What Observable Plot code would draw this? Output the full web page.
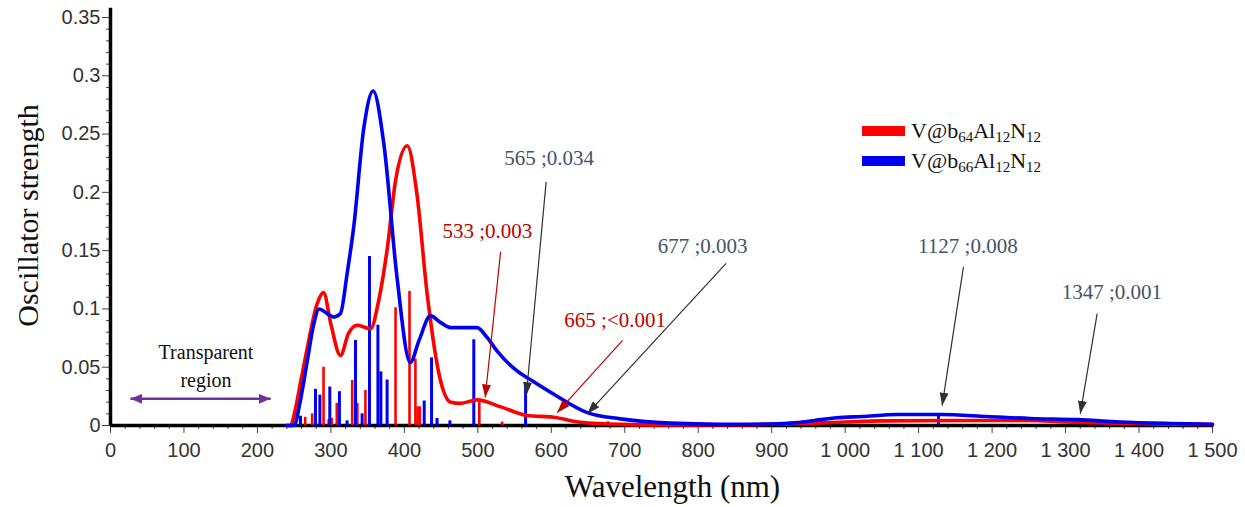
<!DOCTYPE html>
<html>
<head>
<meta charset="utf-8">
<script src="https://cdn.jsdelivr.net/npm/d3@7"></script>
<script src="https://cdn.jsdelivr.net/npm/@observablehq/plot@0.6"></script>
<style>
  html, body { margin: 0; padding: 0; background: #fff; }
  #chart { width: 1245px; height: 507px; }
</style>
</head>
<body>
<div id="chart"></div>
<script>
// ---------- Data ----------
const redCurveWl = [240, 245, 252, 259, 268, 281, 290, 300, 313, 324, 336, 354, 365, 377, 388, 404, 417, 431, 449, 463, 476, 499, 531, 567, 603, 640, 694, 760, 850, 957, 1000, 1050, 1150, 1250, 1300, 1370, 1443, 1500];
const redCurveF  = [0, 0, 0.015, 0.038, 0.067, 0.104, 0.114, 0.087, 0.060, 0.079, 0.086, 0.083, 0.107, 0.153, 0.210, 0.240, 0.199, 0.113, 0.039, 0.020, 0.019, 0.022, 0.016, 0.0086, 0.0071, 0.0028, 0.001, 0.0005, 0.0006, 0.002, 0.003, 0.004, 0.0043, 0.0043, 0.003, 0.002, 0.0012, 0.0008];

const blueCurveWl = [240, 250, 258, 268, 276, 284, 295, 304, 313, 322, 331, 345, 357.5, 372, 390, 408, 420, 435.5, 450, 463, 499, 512, 526, 553, 575, 603, 649, 694, 762, 830, 900, 935, 960, 989, 1023, 1071, 1130, 1193, 1252, 1316, 1374, 1443, 1500];
const blueCurveF  = [0, 0, 0.02, 0.056, 0.085, 0.100, 0.096, 0.093, 0.096, 0.130, 0.170, 0.256, 0.287, 0.242, 0.127, 0.054, 0.073, 0.094, 0.088, 0.084, 0.084, 0.076, 0.064, 0.047, 0.038, 0.027, 0.011, 0.0057, 0.002, 0.001, 0.0012, 0.0025, 0.0045, 0.0066, 0.0077, 0.0094, 0.0094, 0.0077, 0.006, 0.005, 0.003, 0.0017, 0.001];

const redStickWl = [265, 274.5, 290, 297, 301, 308, 329, 336, 347, 388, 407, 415, 418, 421, 502, 533, 665];
const redStickF  = [0.007, 0.010, 0.050, 0.005, 0.006, 0.019, 0.0386, 0.019, 0.030, 0.101, 0.115, 0.057, 0.016, 0.016, 0.020, 0.003, 0.0008];

const blueStickWl = [258.6, 279, 285, 298.5, 311.6, 322, 333.5, 342.5, 352.5, 364, 368, 376.5, 427, 437, 444.5, 462, 494.5, 565, 677, 1127, 1347];
const blueStickF  = [0.008, 0.031, 0.026, 0.033, 0.029, 0.004, 0.073, 0.010, 0.145, 0.086, 0.046, 0.039, 0.021, 0.058, 0.006, 0.004, 0.0735, 0.034, 0.003, 0.008, 0.001];

const seriesNames = ["V@b64Al12N12", "V@b66Al12N12"];

const xTicks = d3.range(0, 1501, 100);
const yTicks = d3.range(0, 36, 5).map(d => d / 100);

// annotations (label, series, text anchor, arrow start, arrow end) in data units
const annLabel  = ["533 ;0.003", "565 ;0.034", "665 ;<0.001", "677 ;0.003", "1127 ;0.008", "1347 ;0.001"];
const annSeries = ["red", "blue", "red", "blue", "blue", "blue"];
const annTextX  = [513, 597, 687, 806, 1167, 1363];
const annTextY  = [0.167, 0.229, 0.090, 0.1535, 0.1535, 0.1143];
const annFromX  = [531, 593, 697, 838, 1161, 1343];
const annFromY  = [0.149, 0.209, 0.073, 0.139, 0.136, 0.096];
const annToX    = [510, 566, 608, 649, 1132, 1320];
const annToY    = [0.024, 0.026, 0.011, 0.010, 0.017, 0.010];

const regionLabel = ["Transparent", "region"];
const regionLabelX = [130, 130];
const regionLabelY = [0.0629, 0.0386];
const regionArrow = [{x1: 27, x2: 218, y: 0.0229}];

// ---------- Build tables ----------
const zip = (xs, ys) => xs.map((x, i) => ({x, y: ys[i]}));
const redCurve = zip(redCurveWl, redCurveF);
const blueCurve = zip(blueCurveWl, blueCurveF);
const redSticks = zip(redStickWl, redStickF);
const blueSticks = zip(blueStickWl, blueStickF);
const anns = annLabel.map((t, i) => ({
  t, s: annSeries[i], tx: annTextX[i], ty: annTextY[i],
  x1: annFromX[i], y1: annFromY[i], x2: annToX[i], y2: annToY[i]
}));
const annRed = anns.filter(d => d.s === "red");
const annGray = anns.filter(d => d.s === "blue");
const regionTexts = regionLabel.map((t, i) => ({t, x: regionLabelX[i], y: regionLabelY[i]}));

const RED = "#ff0000", BLUE = "#0000f0";
const ANN_RED = "#c00000", ANN_GRAY = "#44546a", ARROW_GRAY = "#303030", PURPLE = "#7030a0";

const fmtX = d3.formatLocale({decimal: ".", thousands: " ", grouping: [3], currency: ["", ""]}).format(",d");
const fmtY = d => d === 0 ? "0" : String(+d.toFixed(2));

const xMinor = d3.range(0, 1501, 20).filter(d => d % 100 !== 0);
const yMinor = d3.range(0, 36).filter(d => d % 5 !== 0).map(d => d / 100);

const serif = "Liberation Serif, Times New Roman, serif";

const plot = Plot.plot({
  width: 1245,
  height: 507,
  marginLeft: 110,
  marginRight: 33,
  marginTop: 17,
  marginBottom: 82,
  x: {domain: [0, 1500]},
  y: {domain: [0, 0.35]},
  style: {fontFamily: "Liberation Sans, Arial, sans-serif", fontSize: "20px", background: "#fff", color: "#333"},
  marks: [
    Plot.axisX({ticks: xTicks, tickSize: 8, tickPadding: 9, tickFormat: fmtX, label: null, stroke: "#444", fill: "#333"}),
    Plot.axisX({ticks: xMinor, tickSize: 4, tickFormat: () => "", label: null, stroke: "#444"}),
    Plot.axisY({ticks: yTicks, tickSize: 8, tickPadding: 2, tickFormat: fmtY, label: null, stroke: "#444", fill: "#333"}),
    Plot.axisY({ticks: yMinor, tickSize: 4, tickFormat: () => "", label: null, stroke: "#444"}),
    // axis lines
    Plot.ruleY([0], {x1: 0, x2: 1502, stroke: "#000", strokeWidth: 3.5}),
    Plot.ruleX([0], {y1: 0, y2: 0.358, stroke: "#000", strokeWidth: 3.5}),
    // stick spectra
    Plot.ruleX(redSticks, {x: "x", y1: 0, y2: "y", stroke: RED, strokeWidth: 2.6}),
    Plot.ruleX(blueSticks, {x: "x", y1: 0, y2: "y", stroke: BLUE, strokeWidth: 3}),
    // convoluted curves
    Plot.line(redCurve, {x: "x", y: "y", stroke: RED, strokeWidth: 3.6, curve: "monotone-x"}),
    Plot.line(blueCurve, {x: "x", y: "y", stroke: BLUE, strokeWidth: 3.6, curve: "monotone-x"}),
    // annotations
    Plot.link(annRed, {x1: "x1", y1: "y1", x2: "x2", y2: "y2", stroke: ANN_RED, strokeWidth: 1.2}),
    Plot.link(annGray, {x1: "x1", y1: "y1", x2: "x2", y2: "y2", stroke: ARROW_GRAY, strokeWidth: 1.2}),
    Plot.text(annRed, {x: "tx", y: "ty", text: "t", fill: ANN_RED, fontSize: 21, fontFamily: serif}),
    Plot.text(annGray, {x: "tx", y: "ty", text: "t", fill: ANN_GRAY, fontSize: 21, fontFamily: serif}),
    Plot.link(regionArrow, {x1: "x1", x2: "x2", y1: "y", y2: "y", stroke: PURPLE, strokeWidth: 2.6}),
    Plot.text(regionTexts, {x: "x", y: "y", text: "t", fill: "#111", fontSize: 20, fontFamily: serif}),
    // axis titles
    Plot.text(["Oscillator strength"], {frameAnchor: "left", textAnchor: "middle", dx: -82, dy: -6, rotate: -90, fill: "#111", fontSize: 30, fontFamily: serif}),
    Plot.text(["Wavelength (nm)"], {frameAnchor: "bottom", textAnchor: "middle", dx: 11, dy: 62, lineAnchor: "middle", fill: "#111", fontSize: 31, fontFamily: serif})
  ]
});

// ---------- Arrow heads and legend ----------
const svg = d3.select(plot);
const defs = svg.insert("defs", ":first-child");
function addMarker(id, color, len, wid) {
  defs.append("marker")
    .attr("id", id)
    .attr("viewBox", `0 ${-wid / 2} ${len} ${wid}`)
    .attr("refX", len).attr("refY", 0)
    .attr("markerWidth", len).attr("markerHeight", wid)
    .attr("markerUnits", "userSpaceOnUse")
    .attr("orient", "auto-start-reverse")
    .append("path")
    .attr("d", `M0,${-wid / 2}L${len},0L0,${wid / 2}Z`)
    .attr("fill", color)
    .attr("stroke", "none");
}
addMarker("m-red", ANN_RED, 13, 9);
addMarker("m-gray", ARROW_GRAY, 13, 9);
addMarker("m-purple", PURPLE, 12, 10);
svg.selectAll(`g[stroke="${ANN_RED}"] path`).attr("marker-end", "url(#m-red)");
svg.selectAll(`g[stroke="${ARROW_GRAY}"] path`).attr("marker-end", "url(#m-gray)");
svg.selectAll(`g[stroke="${PURPLE}"] path`).attr("marker-end", "url(#m-purple)").attr("marker-start", "url(#m-purple)");

// legend
const legend = svg.append("g").attr("font-family", serif).attr("font-size", 22).attr("fill", "#111").attr("text-anchor", "start");
[RED, BLUE].forEach((c, i) => {
  const y0 = 126 + i * 30;
  legend.append("rect").attr("x", 862).attr("y", y0).attr("width", 43).attr("height", 10).attr("fill", c);
  const name = seriesNames[i];
  const m = name.match(/^V@b(\d+)Al(\d+)N(\d+)$/);
  const t = legend.append("text").attr("x", 911).attr("y", y0 + 12);
  t.append("tspan").text("V@b");
  t.append("tspan").attr("dy", 4).attr("font-size", 15).text(m[1]);
  t.append("tspan").attr("dy", -4).text("Al");
  t.append("tspan").attr("dy", 4).attr("font-size", 15).text(m[2]);
  t.append("tspan").attr("dy", -4).text("N");
  t.append("tspan").attr("dy", 4).attr("font-size", 15).text(m[3]);
});

document.getElementById("chart").appendChild(plot);
</script>
</body>
</html>
